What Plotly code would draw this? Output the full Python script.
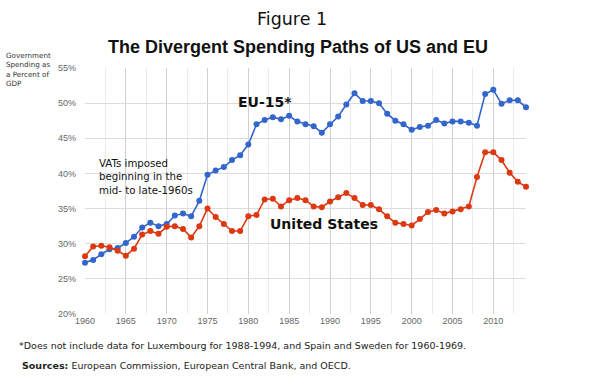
import plotly.graph_objects as go

years = list(range(1960, 2015))
eu15 = [27.3, 27.7, 28.5, 29.2, 29.4, 30.1, 31.0, 32.3, 33.0, 32.5,
        32.8, 34.0, 34.3, 33.9, 36.1, 39.8, 40.4, 40.9, 41.9, 42.6,
        44.1, 47.0, 47.6, 48.0, 47.7, 48.2, 47.4, 47.0, 46.7, 45.8,
        47.0, 48.1, 49.8, 51.4, 50.3, 50.3, 50.0, 48.5, 47.5, 47.0,
        46.2, 46.6, 46.8, 47.6, 47.1, 47.4, 47.4, 47.2, 46.8, 51.3,
        51.9, 49.9, 50.4, 50.4, 49.4]
us = [28.2, 29.6, 29.7, 29.5, 29.0, 28.3, 29.3, 31.3, 31.8, 31.4,
      32.4, 32.5, 32.1, 30.9, 32.5, 35.0, 33.8, 32.8, 31.8, 31.8,
      33.9, 34.1, 36.3, 36.4, 35.3, 36.2, 36.5, 36.2, 35.3, 35.2,
      36.0, 36.6, 37.2, 36.5, 35.5, 35.5, 34.9, 33.9, 33.0, 32.8,
      32.6, 33.5, 34.5, 34.8, 34.3, 34.6, 34.9, 35.3, 39.5, 43.0,
      43.0, 41.9, 40.1, 38.8, 38.1]
y_ticks = [20, 25, 30, 35, 40, 45, 50, 55]
x_ticks = [1960, 1965, 1970, 1975, 1980, 1985, 1990, 1995, 2000, 2005, 2010]

W, H = 600, 386
L, R, T, B = 85, 526, 68, 314


def px(x):
    return (x - L) / (R - L)


def py(y):
    return (B - y) / (B - T)


fig = go.Figure()
fig.add_trace(go.Scatter(x=years, y=eu15, mode="lines+markers", name="EU-15*",
                         line=dict(color="#3366cc", width=1.6),
                         marker=dict(color="#3366cc", size=6), cliponaxis=False))
fig.add_trace(go.Scatter(x=years, y=us, mode="lines+markers", name="United States",
                         line=dict(color="#dc3912", width=1.6),
                         marker=dict(color="#dc3912", size=6), cliponaxis=False))

ann = []
ann.append(dict(text="Figure 1", xref="paper", yref="paper", x=px(292), y=py(19),
                xanchor="center", yanchor="middle", showarrow=False,
                font=dict(family="DejaVu Sans", size=17.5, color="#111")))
ann.append(dict(text="<b>The Divergent Spending Paths of US and EU</b>", xref="paper", yref="paper",
                x=px(298), y=py(47), xanchor="center", yanchor="middle", showarrow=False,
                font=dict(family="Liberation Sans", size=18, color="#111")))
ann.append(dict(text="Government<br>Spending as<br>a Percent of<br>GDP", xref="paper", yref="paper",
                x=px(4), y=py(49), xanchor="left", yanchor="top", align="left", showarrow=False,
                font=dict(family="DejaVu Sans", size=7.2, color="#333")))
ann.append(dict(text="<b>EU-15*</b>", xref="paper", yref="paper", x=px(265), y=py(102),
                xanchor="center", yanchor="middle", showarrow=False,
                font=dict(family="DejaVu Sans", size=14, color="#111")))
ann.append(dict(text="<b>United States</b>", xref="paper", yref="paper", x=px(324), y=py(224),
                xanchor="center", yanchor="middle", showarrow=False,
                font=dict(family="DejaVu Sans", size=14, color="#111")))
ann.append(dict(text="VATs imposed<br>beginning in the<br>mid- to late-1960s", xref="paper", yref="paper",
                x=px(97), y=py(176.5), xanchor="left", yanchor="middle", align="left", showarrow=False,
                font=dict(family="DejaVu Sans", size=10.2, color="#111")))
ann.append(dict(text="*Does not include data for Luxembourg for 1988-1994, and Spain and Sweden for 1960-1969.",
                xref="paper", yref="paper", x=px(17), y=py(345), xanchor="left", yanchor="middle",
                showarrow=False, font=dict(family="DejaVu Sans", size=9.5, color="#222")))
ann.append(dict(text="<b>Sources:</b> European Commission, European Central Bank, and OECD.",
                xref="paper", yref="paper", x=px(20), y=py(365), xanchor="left", yanchor="middle",
                showarrow=False, font=dict(family="DejaVu Sans", size=9.5, color="#222")))

fig.update_layout(
    width=W, height=H, showlegend=False,
    margin=dict(l=L, r=W - R, t=T, b=H - B, pad=0),
    paper_bgcolor="white", plot_bgcolor="white",
    annotations=ann,
    xaxis=dict(range=[1960, 2014], tickvals=x_ticks, ticktext=[str(v) for v in x_ticks],
               showgrid=True, gridcolor="#d0d0d0", gridwidth=1, zeroline=False,
               showline=False, ticks="",
               minor=dict(tickvals=[v + 2.5 for v in x_ticks], showgrid=True, gridcolor="#ebebeb"),
               tickfont=dict(family="Liberation Sans", size=9, color="#666")),
    yaxis=dict(range=[20, 55], tickvals=y_ticks, ticktext=[f"{v}%" for v in y_ticks],
               showgrid=True, gridcolor="#dcdcdc", gridwidth=1, zeroline=False,
               showline=False, ticks="", ticklabelstandoff=8,
               tickfont=dict(family="Liberation Sans", size=9, color="#666")),
)

fig.write_html("out.html", config={"displayModeBar": False},
               post_script="document.body.style.margin='0';")
